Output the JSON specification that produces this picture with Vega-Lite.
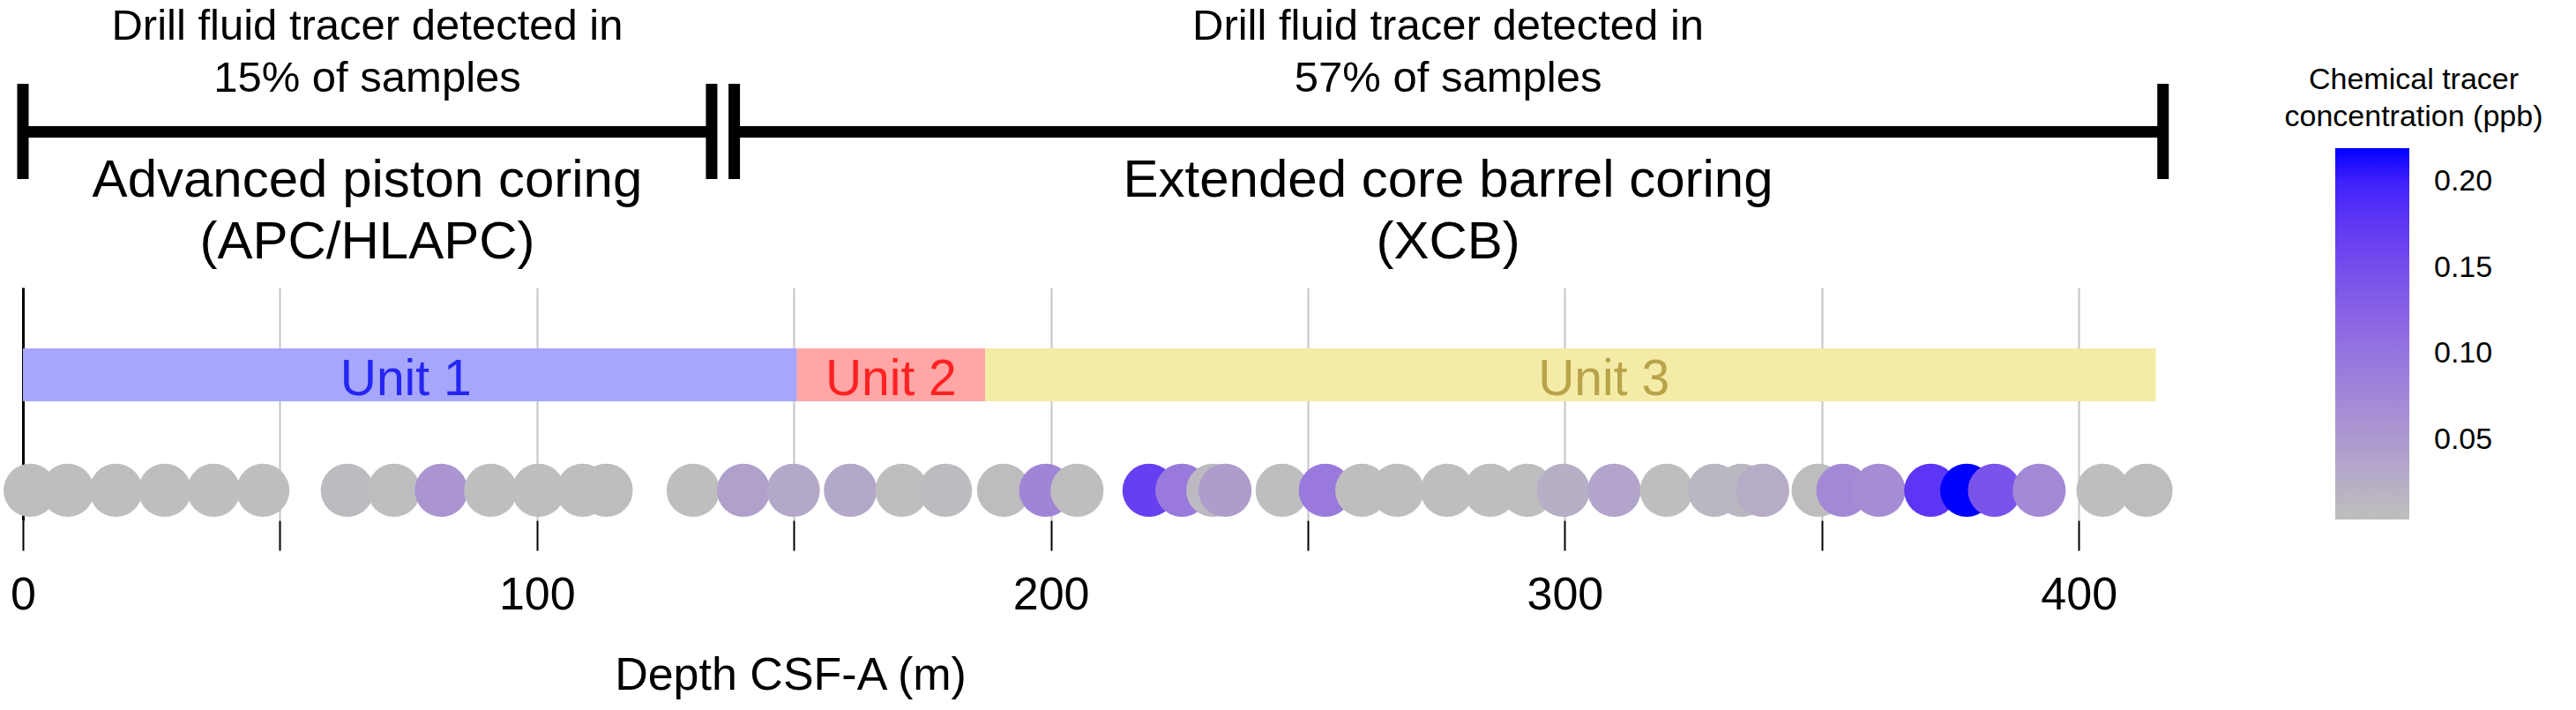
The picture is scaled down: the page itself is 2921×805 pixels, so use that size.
{
  "$schema": "https://vega.github.io/schema/vega-lite/v6.json",
  "width": 2506,
  "height": 264,
  "autosize": "none",
  "padding": {"left": 26, "top": 326, "right": 389, "bottom": 215},
  "background": "white",
  "config": {"font": "Liberation Sans", "view": {"stroke": null}},
  "datasets": {
    "units": [
      {"unit": "Unit 1", "top": 0, "bottom": 150.6, "label_depth": 74.5},
      {"unit": "Unit 2", "top": 150.6, "bottom": 187.2, "label_depth": 168.9},
      {"unit": "Unit 3", "top": 187.2, "bottom": 415.0, "label_depth": 307.6}
    ],
    "samples": [
      {"depth": 1.4, "conc": 0.004},
      {"depth": 8.7, "conc": 0.004},
      {"depth": 18.1, "conc": 0.004},
      {"depth": 27.6, "conc": 0.004},
      {"depth": 37.1, "conc": 0.004},
      {"depth": 46.7, "conc": 0.004},
      {"depth": 63.1, "conc": 0.008},
      {"depth": 72.2, "conc": 0.004},
      {"depth": 81.4, "conc": 0.058},
      {"depth": 91.0, "conc": 0.004},
      {"depth": 100.3, "conc": 0.004},
      {"depth": 108.9, "conc": 0.004},
      {"depth": 113.5, "conc": 0.006},
      {"depth": 130.4, "conc": 0.004},
      {"depth": 140.2, "conc": 0.043},
      {"depth": 149.9, "conc": 0.033},
      {"depth": 161.0, "conc": 0.033},
      {"depth": 171.0, "conc": 0.004},
      {"depth": 179.5, "conc": 0.008},
      {"depth": 190.8, "conc": 0.006},
      {"depth": 199.0, "conc": 0.078},
      {"depth": 205.1, "conc": 0.004},
      {"depth": 219.1, "conc": 0.168},
      {"depth": 225.5, "conc": 0.093},
      {"depth": 231.5, "conc": 0.011},
      {"depth": 233.9, "conc": 0.048},
      {"depth": 245.0, "conc": 0.004},
      {"depth": 253.4, "conc": 0.093},
      {"depth": 260.5, "conc": 0.004},
      {"depth": 267.4, "conc": 0.004},
      {"depth": 277.1, "conc": 0.004},
      {"depth": 285.5, "conc": 0.004},
      {"depth": 292.7, "conc": 0.004},
      {"depth": 299.7, "conc": 0.023},
      {"depth": 309.6, "conc": 0.038},
      {"depth": 319.8, "conc": 0.004},
      {"depth": 329.1, "conc": 0.015},
      {"depth": 334.4, "conc": 0.013},
      {"depth": 338.5, "conc": 0.028},
      {"depth": 349.3, "conc": 0.005},
      {"depth": 354.1, "conc": 0.073},
      {"depth": 361.1, "conc": 0.068},
      {"depth": 371.2, "conc": 0.178},
      {"depth": 378.2, "conc": 0.2195},
      {"depth": 383.6, "conc": 0.143},
      {"depth": 392.3, "conc": 0.073},
      {"depth": 404.7, "conc": 0.004},
      {"depth": 413.1, "conc": 0.005}
    ],
    "spans": [
      {"method": "APC/HLAPC", "from": 0, "to": 134.0},
      {"method": "XCB", "from": 138.4, "to": 416.4}
    ],
    "span_ends": [
      {"depth": 0},
      {"depth": 134.0},
      {"depth": 138.4},
      {"depth": 416.4}
    ],
    "methods": [
      {"depth": 67, "detect1": "Drill fluid tracer detected in", "detect2": "15% of samples", "method1": "Advanced piston coring", "method2": "(APC/HLAPC)"},
      {"depth": 277.3, "detect1": "Drill fluid tracer detected in", "detect2": "57% of samples", "method1": "Extended core barrel coring", "method2": "(XCB)"}
    ]
  },
  "layer": [
    {
      "data": {"name": "units"},
      "mark": {"type": "rect"},
      "encoding": {
        "x": {
          "field": "top", "type": "quantitative",
          "scale": {"domain": [0, 430], "nice": false, "zero": false},
          "axis": {
            "values": [0, 50, 100, 150, 200, 250, 300, 350, 400],
            "title": "Depth CSF-A (m)",
            "grid": true, "gridColor": "#c4c4c4", "gridWidth": 2,
            "domain": false,
            "ticks": true, "tickSize": 34, "tickColor": "black", "tickWidth": 2,
            "labelExpr": "datum.value % 100 === 0 ? datum.label : ''",
            "labelFont": "Liberation Sans", "labelFontSize": 52, "labelColor": "black", "labelPadding": 25,
            "labelFlush": false, "labelOverlap": false,
            "titleFont": "Liberation Sans", "titleFontSize": 52, "titleFontWeight": "normal", "titleColor": "black", "titlePadding": 40,
            "titleX": 870, "titleAlign": "center"
          }
        },
        "x2": {"field": "bottom"},
        "y": {
          "datum": 73.9, "type": "quantitative",
          "scale": {"domain": [0, 100], "nice": false, "zero": false},
          "axis": {"orient": "left", "domain": true, "domainColor": "black", "domainWidth": 3, "ticks": false, "labels": false, "grid": false, "title": null}
        },
        "y2": {"datum": 51.1},
        "fill": {
          "field": "unit", "type": "nominal",
          "scale": {"domain": ["Unit 1", "Unit 2", "Unit 3"], "range": ["#a6a6fa", "#ffa6a6", "#f4eca6"]},
          "legend": null
        }
      }
    },
    {
      "data": {"name": "units"},
      "mark": {"type": "text", "fontSize": 57, "baseline": "alphabetic", "align": "center", "font": "Liberation Sans"},
      "encoding": {
        "x": {"field": "label_depth", "type": "quantitative"},
        "y": {"datum": 53.8, "type": "quantitative"},
        "text": {"field": "unit"},
        "fill": {
          "field": "unit", "type": "nominal",
          "scale": {"domain": ["Unit 1", "Unit 2", "Unit 3"], "range": ["#2525f2", "#ff2222", "#b9a34a"]},
          "legend": null
        }
      }
    },
    {
      "mark": {"type": "rule", "color": "black", "strokeWidth": 4},
      "encoding": {
        "x": {"datum": 0, "type": "quantitative"},
        "x2": {"datum": 428},
        "y": {"datum": 12.9, "type": "quantitative"}
      }
    },
    {
      "data": {"name": "samples"},
      "mark": {"type": "circle", "size": 3632, "opacity": 1},
      "encoding": {
        "x": {"field": "depth", "type": "quantitative"},
        "y": {"datum": 12.9, "type": "quantitative"},
        "color": {
          "field": "conc", "type": "quantitative",
          "scale": {"range": ["#bebebe", "#0000ff"], "interpolate": "lab", "zero": false, "nice": false},
          "legend": {
            "title": ["Chemical tracer", "concentration (ppb)"],
            "orient": "none", "legendX": 2565, "legendY": -252,
            "direction": "vertical",
            "gradientLength": 421, "gradientThickness": 84, "gradientStrokeWidth": 0,
            "values": [0.05, 0.1, 0.15, 0.2], "format": ".2f",
            "labelFont": "Liberation Sans", "labelFontSize": 34, "labelOffset": 28, "labelColor": "black", "labelLimit": 300,
            "titleFont": "Liberation Sans", "titleFontSize": 34, "titleFontWeight": "normal", "titleColor": "black",
            "titleLineHeight": 42, "titleAnchor": "middle", "titleAlign": "center", "titlePadding": 18, "titleLimit": 1000
          }
        }
      }
    },
    {
      "data": {"name": "spans"},
      "mark": {"type": "rule", "color": "black", "strokeWidth": 13, "strokeCap": "butt"},
      "encoding": {
        "x": {"field": "from", "type": "quantitative"},
        "x2": {"field": "to"},
        "y": {"datum": 166.9, "type": "quantitative"}
      }
    },
    {
      "data": {"name": "span_ends"},
      "mark": {"type": "rule", "color": "black", "strokeWidth": 13, "strokeCap": "butt"},
      "encoding": {
        "x": {"field": "depth", "type": "quantitative"},
        "y": {"datum": 187.5, "type": "quantitative"},
        "y2": {"datum": 146.6}
      }
    },
    {
      "data": {"name": "methods"},
      "mark": {"type": "text", "fontSize": 49, "baseline": "alphabetic", "align": "center", "color": "black", "font": "Liberation Sans"},
      "encoding": {
        "x": {"field": "depth", "type": "quantitative"},
        "y": {"datum": 206.4, "type": "quantitative"},
        "text": {"field": "detect1"}
      }
    },
    {
      "data": {"name": "methods"},
      "mark": {"type": "text", "fontSize": 49, "baseline": "alphabetic", "align": "center", "color": "black", "font": "Liberation Sans"},
      "encoding": {
        "x": {"field": "depth", "type": "quantitative"},
        "y": {"datum": 184.2, "type": "quantitative"},
        "text": {"field": "detect2"}
      }
    },
    {
      "data": {"name": "methods"},
      "mark": {"type": "text", "fontSize": 60, "baseline": "alphabetic", "align": "center", "color": "black", "font": "Liberation Sans"},
      "encoding": {
        "x": {"field": "depth", "type": "quantitative"},
        "y": {"datum": 139.0, "type": "quantitative"},
        "text": {"field": "method1"}
      }
    },
    {
      "data": {"name": "methods"},
      "mark": {"type": "text", "fontSize": 60, "baseline": "alphabetic", "align": "center", "color": "black", "font": "Liberation Sans"},
      "encoding": {
        "x": {"field": "depth", "type": "quantitative"},
        "y": {"datum": 112.5, "type": "quantitative"},
        "text": {"field": "method2"}
      }
    }
  ],
  "resolve": {"scale": {"fill": "independent"}}
}
